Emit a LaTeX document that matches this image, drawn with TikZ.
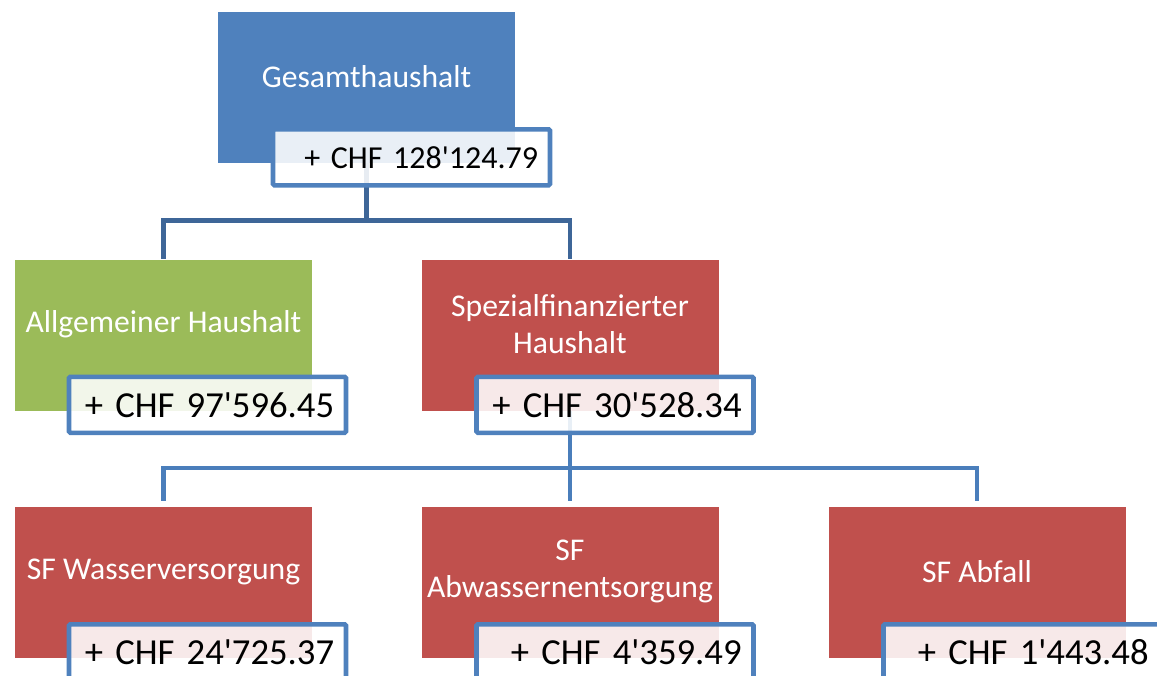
\documentclass[tikz,border=0pt]{standalone}
\usepackage{fontspec}
\setmainfont{Carlito}
\usetikzlibrary{calc,positioning}
\definecolor{hhblue}{RGB}{79,129,189}
\definecolor{hhgreen}{RGB}{155,187,89}
\definecolor{hhred}{RGB}{192,80,77}
\definecolor{linkdark}{RGB}{62,102,152}
\definecolor{linklight}{RGB}{74,126,187}
\tikzset{
        unit/.style = {rectangle, inner sep=0pt,
            minimum width=222.75pt,
            minimum height=113.25pt},
        unittext/.style = {text=white, align=center, inner sep=0pt, font=\fontsize{23.75}{28}\selectfont},
        value/.style = {draw=hhblue, line width=3.4pt, rounded corners=1pt,
            fill=white, fill opacity=0.88, text opacity=1, inner sep=0pt,
            minimum width=207.75pt, minimum height=42pt,
            text width=190pt, align=right, font=\fontsize{27.5}{32}\selectfont},
        link/.style = {draw, line width=3.4pt},
    }
\newcommand{\chf}[1]{+ CHF #1}

\begin{document}
\begin{tikzpicture}[x=0.75pt,y=0.75pt,yscale=-1,xscale=1]
    \clip (0,0) rectangle (1157,675);

    % Boxes
    \node[unit, fill=hhblue] (ges) at (366.5,87.5) {};
    \node[unit, fill=hhgreen] (allg) at (163.5,335) {};
    \node[unit, fill=hhred] (spez) at (570,335) {};
    \node[unit, fill=hhred] (wasser) at (163.5,582.5) {};
    \node[unit, fill=hhred] (abwasser) at (570,582.5) {};
    \node[unit, fill=hhred] (abfall) at (977,582.5) {};

    % Lines
    \draw[link, linkdark] (ges.south) -- ++(0,57) coordinate (gesfork) -| (allg.north);
    \draw[link, linkdark] (gesfork) -| (spez.north);
    \draw[link, linklight] (spez.south) -- ++(0,57) coordinate (spezfork);
    \draw[link, linklight, shorten >=4.5pt] (spezfork) -| (wasser.north);
    \draw[link, linklight, shorten >=4.5pt] (spezfork) -- (abwasser.north);
    \draw[link, linklight, shorten >=4.5pt] (spezfork) -| (abfall.north);

    % Text Node
    \node[unittext] (gestext) at ($(ges.center)+(0,-11)$) {Gesamthaushalt};
    \node[unittext] (allgtext) at ($(allg.center)+(0,-11)$) {Allgemeiner Haushalt};
    \node[unittext] (speztext) at ($(spez.center)+(0,-11)$) {Spezialfinanzierter\\Haushalt};
    \node[unittext] (wassertext) at ($(wasser.center)+(0,-11)$) {SF Wasserversorgung};
    \node[unittext] (abwassertext) at ($(abwasser.center)+(0,-11)$) {SF\\Abwassernentsorgung};
    \node[unittext] (abfalltext) at ($(abfall.center)+(0,-11)$) {SF Abfall};

    % Value Node
    \node[value, font=\fontsize{24}{28}\selectfont] (gesval) at ($(ges.south)+(45,-6)$) {\chf{128\textquotesingle 124.79}};
    \node[value] (allgval) at ($(allg.south)+(44,-6)$) {\chf{97\textquotesingle 596.45}};
    \node[value] (spezval) at ($(spez.south)+(45,-6)$) {\chf{30\textquotesingle 528.34}};
    \node[value] (wasserval) at ($(wasser.south)+(44,-6)$) {\chf{24\textquotesingle 725.37}};
    \node[value] (abwasserval) at ($(abwasser.south)+(45,-6)$) {\chf{4\textquotesingle 359.49}};
    \node[value] (abfallval) at ($(abfall.south)+(45,-6)$) {\chf{1\textquotesingle 443.48}};

\end{tikzpicture}
\end{document}
